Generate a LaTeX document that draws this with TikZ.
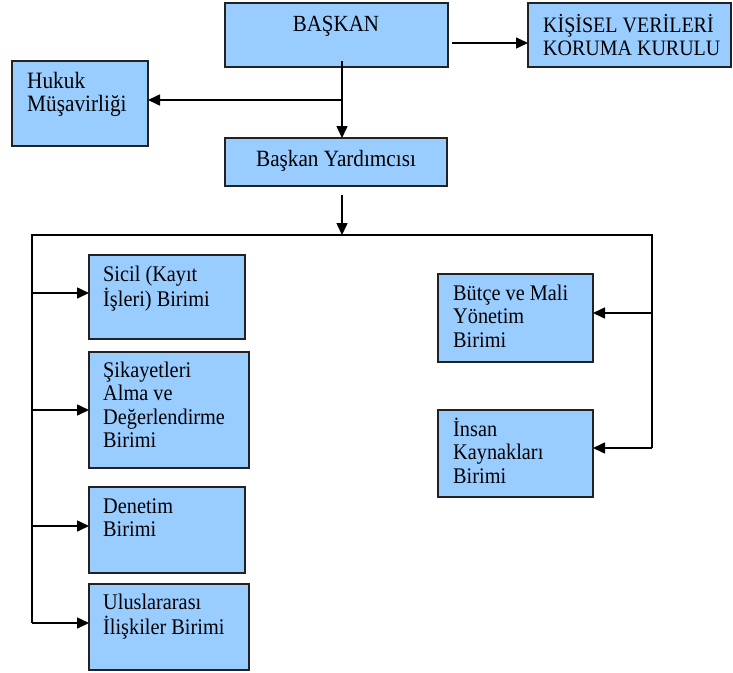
\documentclass[tikz,border=0pt]{standalone}
\usepackage{fontspec}
\usepackage{graphicx}
\setmainfont{Liberation Serif}
\usetikzlibrary{arrows.meta}
\definecolor{boxblue}{HTML}{99CCFF}
\definecolor{edgecol}{HTML}{222222}
\newcommand{\stxt}[2]{{\fontsize{#1}{21.5}\selectfont\scalebox{1}[1.1]{\begin{tabular}[t]{@{}l@{}}#2\end{tabular}}}}
\begin{document}
\begin{tikzpicture}[x=1pt,y=-1pt,
  box/.style={draw=edgecol,line width=1.4pt,fill=boxblue,inner sep=0pt,outer sep=0pt},
  lbl/.style={anchor=base west,inner sep=0pt},
  ctr/.style={anchor=base,inner sep=0pt},
  ln/.style={line width=1.6pt,draw=black},
  arr/.style={line width=1.6pt,draw=black,-{Triangle[length=12pt,width=11pt]}}]
\useasboundingbox (0,0) rectangle (733,672);

% boxes
\node[box,minimum width=223pt,minimum height=64pt] (baskan) at (336.5,35) {};
\node[box,minimum width=203pt,minimum height=64pt] (kisisel) at (629.5,35) {};
\node[box,minimum width=136pt,minimum height=85pt] (hukuk) at (80,103.5) {};
\node[box,minimum width=222pt,minimum height=48pt] (yrd) at (336,162) {};
\node[box,minimum width=156pt,minimum height=84pt] (sicil) at (167,297) {};
\node[box,minimum width=160pt,minimum height=116pt] (sikayet) at (169,410) {};
\node[box,minimum width=156pt,minimum height=86pt] (denetim) at (167,530) {};
\node[box,minimum width=160pt,minimum height=86pt] (ulus) at (169,627) {};
\node[box,minimum width=155pt,minimum height=88pt] (butce) at (515.5,318) {};
\node[box,minimum width=155pt,minimum height=87pt] (insan) at (515.5,453.5) {};

% texts
\node[ctr] (tbaskan) at (336,31) {\stxt{21}{BAŞKAN}};
\node[ctr] (tyrd) at (336,166) {\stxt{21.2}{Başkan Yardımcısı}};
\node[lbl] (tkisisel) at ([shift={(15,29)}]kisisel.north west) {\stxt{20}{KİŞİSEL VERİLERİ\\KORUMA KURULU}};
\node[lbl] (thukuk) at ([shift={(15,27)}]hukuk.north west) {\stxt{21.3}{Hukuk\\Müşavirliği}};
\node[lbl] (tsicil) at ([shift={(14,26)}]sicil.north west) {\stxt{20.3}{Sicil (Kayıt\\İşleri) Birimi}};
\node[lbl] (tsikayet) at ([shift={(14,25)}]sikayet.north west) {\stxt{20.3}{Şikayetleri\\Alma ve\\Değerlendirme\\Birimi}};
\node[lbl] (tdenetim) at ([shift={(14,26)}]denetim.north west) {\stxt{20.3}{Denetim\\Birimi}};
\node[lbl] (tulus) at ([shift={(14,25)}]ulus.north west) {\stxt{20.3}{Uluslararası\\İlişkiler Birimi}};
\node[lbl] (tbutce) at ([shift={(15,26)}]butce.north west) {\stxt{20.3}{Bütçe ve Mali\\Yönetim\\Birimi}};
\node[lbl] (tinsan) at ([shift={(15,26)}]insan.north west) {\stxt{20.3}{İnsan\\Kaynakları\\Birimi}};

% connector points
\coordinate (a1) at (452,43);
\coordinate (b1) at (342,61);
\coordinate (b2) at (342,100);
\coordinate (c1) at (342,195);
\coordinate (c2) at (342,235);
\coordinate (busL) at (32,235);
\coordinate (busR) at (652,235);
\coordinate (l1) at (32,293);
\coordinate (l2) at (32,410);
\coordinate (l3) at (32,526);
\coordinate (l4) at (32,623);
\coordinate (r1) at (652,313);
\coordinate (r2) at (652,448);

% connectors
\draw[arr] (a1) -- (a1 -| kisisel.west);
\draw[arr] (b1) -- (b1 |- yrd.north);
\draw[arr] (b2) -- (b2 -| hukuk.east);
\draw[arr] (c1) -- (c2);
\draw[ln] (l4) -- (busL) -- (busR) -- (r2);
\draw[arr] (l1) -- (l1 -| sicil.west);
\draw[arr] (l2) -- (l2 -| sikayet.west);
\draw[arr] (l3) -- (l3 -| denetim.west);
\draw[arr] (l4) -- (l4 -| ulus.west);
\draw[arr] (r1) -- (r1 -| butce.east);
\draw[arr] (r2) -- (r2 -| insan.east);
\end{tikzpicture}
\end{document}
